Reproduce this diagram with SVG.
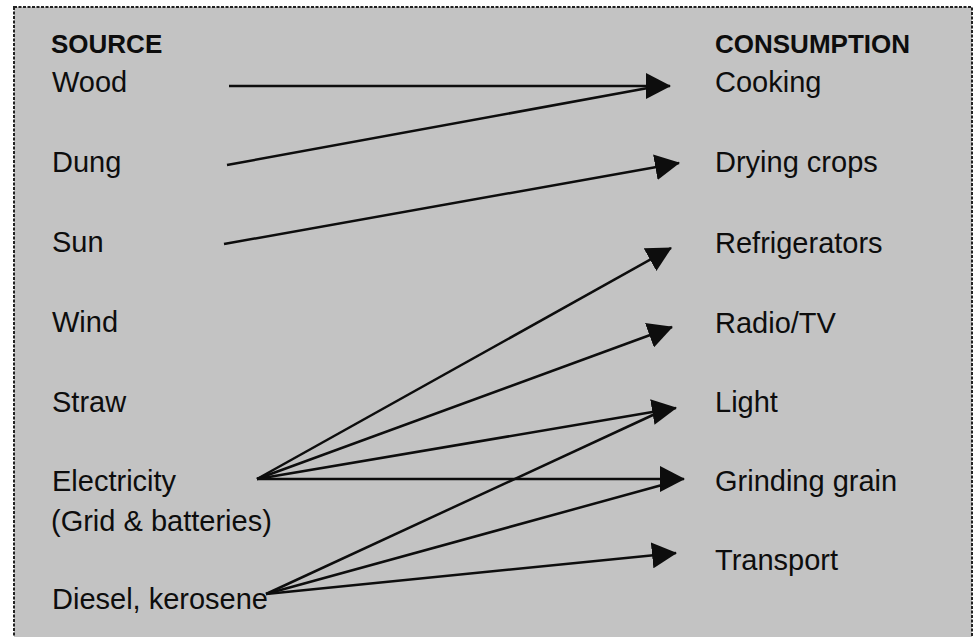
<svg xmlns="http://www.w3.org/2000/svg" width="974" height="637" viewBox="0 0 974 637">
<defs>
<style>
.t{font-family:"Liberation Sans",Arial,sans-serif;font-size:29px;fill:#0d0d0d}
.h{font-family:"Liberation Sans",Arial,sans-serif;font-size:26px;font-weight:bold;fill:#0d0d0d}
.c{stroke:#0d0d0d;stroke-width:2.5;fill:none}
</style>
<marker id="ah" viewBox="0 0 25 26" refX="24" refY="13" markerWidth="25" markerHeight="26" markerUnits="userSpaceOnUse" orient="auto">
<path d="M0,0 L25,13 L0,26 Z" fill="#0d0d0d"/>
</marker>
</defs>
<rect x="0" y="0" width="974" height="637" fill="#ffffff"/>
<rect x="14" y="7" width="958" height="650" fill="#c3c3c3" stroke="#222" stroke-width="2" stroke-dasharray="3,1.5"/>
<g id="headers">
<text id="source" class="h" x="51" y="53">SOURCE</text>
<text id="consumption" class="h" x="715" y="53">CONSUMPTION</text>
</g>
<g id="src-wood"><text class="t" x="52" y="92">Wood</text></g>
<g id="src-dung"><text class="t" x="52" y="172">Dung</text></g>
<g id="src-sun"><text class="t" x="52" y="252">Sun</text></g>
<g id="src-wind"><text class="t" x="52" y="332">Wind</text></g>
<g id="src-straw"><text class="t" x="52" y="412">Straw</text></g>
<g id="src-electricity"><text class="t" x="52" y="491">Electricity</text><text class="t" x="51" y="531">(Grid &amp; batteries)</text></g>
<g id="src-diesel"><text class="t" x="52" y="609">Diesel, kerosene</text></g>
<g id="use-cooking"><text class="t" x="715" y="92">Cooking</text></g>
<g id="use-drying"><text class="t" x="715" y="172">Drying crops</text></g>
<g id="use-refrigerators"><text class="t" x="715" y="253">Refrigerators</text></g>
<g id="use-radio"><text class="t" x="715" y="333">Radio/TV</text></g>
<g id="use-light"><text class="t" x="715" y="412">Light</text></g>
<g id="use-grinding"><text class="t" x="715" y="491">Grinding grain</text></g>
<g id="use-transport"><text class="t" x="715" y="570">Transport</text></g>
<g id="connectors">
<line class="c" x1="229" y1="86" x2="670" y2="86" marker-end="url(#ah)"/>
<line class="c" x1="227" y1="165" x2="648" y2="88"/>
<line class="c" x1="224" y1="244" x2="679" y2="163" marker-end="url(#ah)"/>
<line class="c" x1="257" y1="479" x2="671" y2="248" marker-end="url(#ah)"/>
<line class="c" x1="257" y1="479" x2="672" y2="327" marker-end="url(#ah)"/>
<line class="c" x1="257" y1="479" x2="676" y2="408" marker-end="url(#ah)"/>
<line class="c" x1="257" y1="479" x2="684" y2="479" marker-end="url(#ah)"/>
<line class="c" x1="266" y1="594" x2="655" y2="414"/>
<line class="c" x1="266" y1="594" x2="662" y2="485"/>
<line class="c" x1="266" y1="594" x2="676" y2="553" marker-end="url(#ah)"/>
</g>
</svg>
